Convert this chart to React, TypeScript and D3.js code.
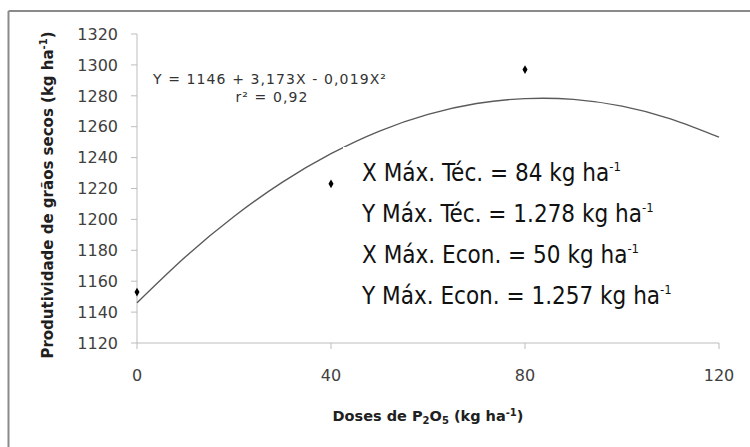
import React from 'react';
import * as d3 from 'd3';

// observed means
const doses = [0, 40, 80];
const produtividade = [1153, 1223, 1297];

// fitted curve, every 10 kg
const trendDoses = [0, 10, 20, 30, 40, 50, 60, 70, 80, 90, 100, 110, 120];
const trendValues = [1146, 1175.8, 1201.9, 1224.1, 1242.5, 1257.2, 1268, 1275, 1278.2, 1277.7, 1273.3, 1265.1, 1253.2];

const xTicks = [0, 40, 80, 120];
const yTicks = [1120, 1140, 1160, 1180, 1200, 1220, 1240, 1260, 1280, 1300, 1320];

const equation = 'Y =  1146 + 3,173X - 0,019X²';
const r2 = 'r² = 0,92';
const notes = [
  'X Máx. Téc. = 84 kg ha',
  'Y Máx. Téc. = 1.278 kg ha',
  'X Máx. Econ. = 50 kg ha',
  'Y Máx. Econ. = 1.257 kg ha',
];

const W = 750;
const H = 447;

export default function App() {
  const x = d3.scaleLinear().domain([0, 120]).range([137, 719]);
  const y = d3.scaleLinear().domain([1120, 1320]).range([343, 34]);

  const line = d3.line<number>()
    .x((_, i) => x(trendDoses[i]))
    .y(d => y(d))
    .curve(d3.curveNatural);

  const diamond = d3.symbol().type(d3.symbolDiamond).size(22)();

  const tickFont = "'DejaVu Sans', sans-serif";
  const axisColor = '#bdbdbd';
  const textColor = '#404040';
  const noteFont = "'Liberation Sans Narrow', 'DejaVu Sans Condensed', 'Arial Narrow', sans-serif";

  return (
    <svg width={W} height={H} style={{ position: 'absolute', left: 0, top: 0, background: '#fff' }}>
      {/* frame (only top and left edges are visible in the crop) */}
      <line x1={8.5} y1={11} x2={W} y2={11} stroke="#8a8a8a" strokeWidth={2} />
      <line x1={8.5} y1={11} x2={8.5} y2={H} stroke="#8a8a8a" strokeWidth={2} />

      {/* y axis */}
      <line x1={x(0)} y1={y(1120)} x2={x(0)} y2={y(1320)} stroke={axisColor} strokeWidth={1} />
      {yTicks.map(t => (
        <g key={t}>
          <line x1={x(0) - 6} x2={x(0)} y1={y(t)} y2={y(t)} stroke={axisColor} />
          <text x={118} y={y(t)} dy="0.36em" textAnchor="end" fontFamily={tickFont} fontSize={16} fill={textColor}>
            {t}
          </text>
        </g>
      ))}

      {/* x axis */}
      <line x1={x(0)} y1={y(1120)} x2={x(120)} y2={y(1120)} stroke={axisColor} strokeWidth={1} />
      {xTicks.map(t => (
        <g key={t}>
          <line x1={x(t)} x2={x(t)} y1={y(1120)} y2={y(1120) + 6} stroke={axisColor} />
          <text x={x(t)} y={381} textAnchor="middle" fontFamily={tickFont} fontSize={16} fill={textColor}>
            {t}
          </text>
        </g>
      ))}

      {/* axis titles */}
      <text
        transform={`translate(53, 195) rotate(-90)`}
        textAnchor="middle"
        fontFamily={tickFont}
        fontWeight="bold"
        fontSize={15}
        fill="#202020"
      >
        Produtividade de grãos secos (kg ha<tspan dy={-6} fontSize={10}>-1</tspan><tspan dy={6}>)</tspan>
      </text>
      <text x={428} y={421} textAnchor="middle" fontFamily={tickFont} fontWeight="bold" fontSize={14.5} fill="#202020">
        Doses de P<tspan dy={3} fontSize={10}>2</tspan><tspan dy={-3}>O</tspan>
        <tspan dy={3} fontSize={10}>5</tspan><tspan dy={-3}> (kg ha</tspan>
        <tspan dy={-5} fontSize={10}>-1</tspan><tspan dy={5}>)</tspan>
      </text>

      {/* fitted curve */}
      <path d={line(trendValues) ?? ''} fill="none" stroke="#5a5a5a" strokeWidth={1.4} />

      {/* equation */}
      <text x={153} y={84} fontFamily={tickFont} fontSize={14} letterSpacing={1.1} fill="#333">{equation}</text>
      <text x={272} y={102} textAnchor="middle" fontFamily={tickFont} fontSize={14} letterSpacing={1.1} fill="#333">{r2}</text>

      {/* annotation box */}
      <rect x={343} y={147} width={340} height={170} fill="#fff" />
      {notes.map((n, i) => (
        <text key={n} x={362} y={181 + i * 41} fontFamily={noteFont} fontSize={24} fill="#111">
          {n}
          <tspan dy={-10} fontSize={13}>-1</tspan>
        </text>
      ))}

      {/* observed points */}
      {doses.map((d, i) => (
        <path key={d} d={diamond ?? ''} transform={`translate(${x(d)}, ${y(produtividade[i])})`} fill="#000" />
      ))}
    </svg>
  );
}
